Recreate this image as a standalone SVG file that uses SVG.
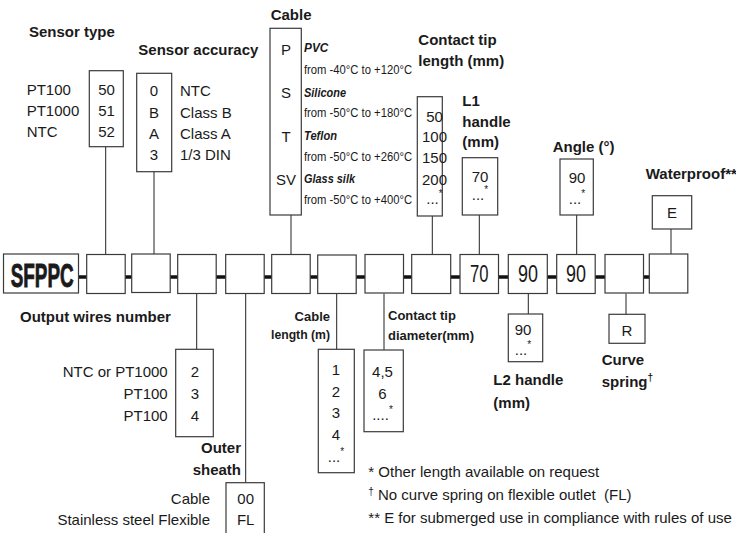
<svg xmlns="http://www.w3.org/2000/svg" width="736" height="533" viewBox="0 0 736 533">
<style>
.box{fill:#fff;stroke:#3a3a3a;stroke-width:1.2}
.t{font-family:"Liberation Sans",Arial,sans-serif;font-size:15px;fill:#1a1a1a}
.b{font-weight:bold}
.c{text-anchor:middle}
.r{text-anchor:end}
.bi{font-weight:bold;font-style:italic;font-size:12px}
.sm{font-size:12px}
.big{font-size:23px}
.sup{font-size:10px}
.s13{font-size:13px}
.logo{font-size:33px;font-weight:bold;stroke:#1a1a1a;stroke-width:0.9}
.conn{stroke:#222;stroke-width:1;fill:none}
.bar{stroke:#111;stroke-width:3.4;fill:none}
</style>
<rect width="736" height="533" fill="#fff"/>
<g id="connectors">
<line class="bar" x1="78" y1="277" x2="650" y2="277"/>
<line class="conn" x1="105.7" y1="146.7" x2="105.7" y2="255"/>
<line class="conn" x1="154" y1="171.7" x2="154" y2="254.5"/>
<line class="conn" x1="291" y1="215" x2="291" y2="255"/>
<line class="conn" x1="432.3" y1="216" x2="432.3" y2="255"/>
<line class="conn" x1="479.3" y1="215" x2="479.3" y2="255"/>
<line class="conn" x1="576.7" y1="215" x2="576.7" y2="255"/>
<line class="conn" x1="671" y1="229" x2="671" y2="254.5"/>
<line class="conn" x1="196.7" y1="293.5" x2="196.7" y2="349.3"/>
<line class="conn" x1="245.7" y1="293.5" x2="245.7" y2="482.7"/>
<line class="conn" x1="336.7" y1="293.5" x2="336.7" y2="349.3"/>
<line class="conn" x1="384" y1="293.5" x2="384" y2="350"/>
<line class="conn" x1="528.3" y1="293.5" x2="528.3" y2="314"/>
<line class="conn" x1="626" y1="293.5" x2="626" y2="314.3"/>
</g>
<g id="main-row">
<g id="code"><rect class="box" x="3.5" y="254" width="75" height="39"/>
<text class="t logo" x="10.7" y="286.5" textLength="63" lengthAdjust="spacingAndGlyphs">SFPPC</text></g>
<rect id="slot1" class="box" x="86.7" y="254.5" width="38.5" height="39"/>
<rect id="slot2" class="box" x="131.7" y="254" width="38.5" height="38.5"/>
<rect id="slot3" class="box" x="177.7" y="254.5" width="38.5" height="39"/>
<rect id="slot4" class="box" x="225.7" y="254.5" width="38.5" height="39"/>
<rect id="slot5" class="box" x="271.7" y="254.5" width="38.5" height="39"/>
<rect id="slot6" class="box" x="317.7" y="255" width="38.5" height="38.5"/>
<rect id="slot7" class="box" x="365" y="254.5" width="38.5" height="38.5"/>
<rect id="slot8" class="box" x="411.7" y="254.5" width="39" height="39"/>
<g id="slot9"><rect class="box" x="460" y="254.5" width="38.5" height="39"/><text class="t c big" x="479.2" y="281.7" textLength="18.5" lengthAdjust="spacingAndGlyphs">70</text></g>
<g id="slot10"><rect class="box" x="508.3" y="254.5" width="39" height="39"/><text class="t c big" x="528" y="281.7" textLength="20" lengthAdjust="spacingAndGlyphs">90</text></g>
<g id="slot11"><rect class="box" x="556.7" y="254.5" width="38.5" height="39"/><text class="t c big" x="576" y="281.7" textLength="20" lengthAdjust="spacingAndGlyphs">90</text></g>
<rect id="slot12" class="box" x="605" y="254.5" width="38.5" height="38.5"/>
<rect id="slot13" class="box" x="649.3" y="254" width="38.5" height="39"/>
</g>
<g id="sensor-type">
<text class="t b" x="29" y="36.7">Sensor type</text>
<rect class="box" x="89.3" y="70.7" width="34" height="76"/>
<text class="t" x="26.7" y="95">PT100</text>
<text class="t" x="26.7" y="116">PT1000</text>
<text class="t" x="26.7" y="137">NTC</text>
<text class="t c" x="106.5" y="95">50</text>
<text class="t c" x="106.5" y="116">51</text>
<text class="t c" x="106.5" y="137">52</text>
</g>
<g id="sensor-accuracy">
<text class="t b" x="138.3" y="55">Sensor accuracy</text>
<rect class="box" x="136.7" y="73.3" width="35" height="98.4"/>
<text class="t c" x="154" y="96">0</text>
<text class="t c" x="154" y="118">B</text>
<text class="t c" x="154" y="139">A</text>
<text class="t c" x="154" y="160">3</text>
<text class="t" x="180" y="96">NTC</text>
<text class="t" x="180" y="118">Class B</text>
<text class="t" x="180" y="139">Class A</text>
<text class="t" x="180" y="160">1/3 DIN</text>
</g>
<g id="cable">
<text class="t b" x="270.7" y="20">Cable</text>
<rect class="box" x="270" y="28.3" width="31.3" height="186.7"/>
<text class="t c" x="286" y="55">P</text>
<text class="t c" x="286" y="98.3">S</text>
<text class="t c" x="286" y="141.7">T</text>
<text class="t c" x="286" y="185">SV</text>
<text class="t bi" x="304" y="51.7" textLength="24.3" lengthAdjust="spacingAndGlyphs">PVC</text>
<text class="t sm" x="304" y="74" textLength="108" lengthAdjust="spacingAndGlyphs">from -40°C to +120°C</text>
<text class="t bi" x="304" y="96.7" textLength="42" lengthAdjust="spacingAndGlyphs">Silicone</text>
<text class="t sm" x="304" y="117.3" textLength="108" lengthAdjust="spacingAndGlyphs">from -50°C to +180°C</text>
<text class="t bi" x="304" y="140" textLength="33" lengthAdjust="spacingAndGlyphs">Teflon</text>
<text class="t sm" x="304" y="160.7" textLength="108" lengthAdjust="spacingAndGlyphs">from -50°C to +260°C</text>
<text class="t bi" x="304" y="183.3" textLength="51" lengthAdjust="spacingAndGlyphs">Glass silk</text>
<text class="t sm" x="304" y="204" textLength="108" lengthAdjust="spacingAndGlyphs">from -50°C to +400°C</text>
</g>
<g id="contact-tip-length">
<text class="t b" x="418.3" y="45">Contact tip</text>
<text class="t b" x="418.3" y="66">length (mm)</text>
<rect class="box" x="417.3" y="96.7" width="25" height="119.3"/>
<text class="t c" x="434.5" y="121.7">50</text>
<text class="t c" x="434.5" y="142">100</text>
<text class="t c" x="434.5" y="163">150</text>
<text class="t c" x="434.5" y="184.5">200</text>
<text class="t c" x="434.5" y="204">...<tspan class="sup" dy="-7">*</tspan></text>
</g>
<g id="l1-handle">
<text class="t b" x="462.3" y="106">L1</text>
<text class="t b" x="462.3" y="126.7">handle</text>
<text class="t b" x="462.3" y="147">(mm)</text>
<rect class="box" x="462.3" y="157.7" width="35.4" height="57.3"/>
<text class="t c" x="480" y="181.7">70</text>
<text class="t c" x="480" y="200">...<tspan class="sup" dy="-7">*</tspan></text>
</g>
<g id="angle">
<text class="t b" x="552.7" y="151.7">Angle (°)</text>
<rect class="box" x="560" y="159" width="33.3" height="56"/>
<text class="t c" x="577" y="182.7">90</text>
<text class="t c" x="577" y="204">...<tspan class="sup" dy="-7">*</tspan></text>
</g>
<g id="waterproof">
<text class="t b" x="645.7" y="179.3">Waterproof**</text>
<rect class="box" x="652.3" y="195.7" width="39.4" height="33.3"/>
<text class="t c" x="672" y="217.7">E</text>
</g>
<g id="output-wires">
<text class="t b" x="20" y="321.7">Output wires number</text>
<rect class="box" x="175.7" y="349.3" width="37.6" height="87.4"/>
<text class="t r" x="167.7" y="377.3">NTC or PT1000</text>
<text class="t r" x="167.7" y="399.3">PT100</text>
<text class="t r" x="167.7" y="420.7">PT100</text>
<text class="t c" x="195" y="377.3">2</text>
<text class="t c" x="195" y="399.3">3</text>
<text class="t c" x="195" y="420.7">4</text>
</g>
<g id="outer-sheath">
<text class="t b r" x="241" y="453.3">Outer</text>
<text class="t b r" x="241" y="475">sheath</text>
<rect class="box" x="226" y="482.7" width="38.3" height="60"/>
<text class="t r" x="210" y="504">Cable</text>
<text class="t r" x="210" y="524.5">Stainless steel Flexible</text>
<text class="t c" x="245.7" y="504">00</text>
<text class="t c" x="245.7" y="525">FL</text>
</g>
<g id="cable-length">
<text class="t b r s13" x="330" y="320.7">Cable</text>
<text class="t b r s13" x="330" y="339.3" textLength="59" lengthAdjust="spacingAndGlyphs">length (m)</text>
<rect class="box" x="318.3" y="349.3" width="36" height="123.4"/>
<text class="t c" x="336" y="375">1</text>
<text class="t c" x="336" y="396.7">2</text>
<text class="t c" x="336" y="418.3">3</text>
<text class="t c" x="336" y="440">4</text>
<text class="t c" x="336" y="461.7">...<tspan class="sup" dy="-7">*</tspan></text>
</g>
<g id="contact-tip-diameter">
<text class="t b s13" x="388" y="320">Contact tip</text>
<text class="t b s13" x="388" y="340">diameter(mm)</text>
<rect class="box" x="364" y="350" width="39.3" height="81.7"/>
<text class="t c" x="382.5" y="377.3">4,5</text>
<text class="t c" x="382.5" y="399.3">6</text>
<text class="t c" x="382.5" y="420">....<tspan class="sup" dy="-7">*</tspan></text>
</g>
<g id="l2-handle">
<rect class="box" x="508.3" y="314" width="34.4" height="47.7"/>
<text class="t c" x="523" y="335">90</text>
<text class="t c" x="523" y="355">...<tspan class="sup" dy="-7">*</tspan></text>
<text class="t b" x="493.3" y="385">L2 handle</text>
<text class="t b" x="493.3" y="408">(mm)</text>
</g>
<g id="curve-spring">
<rect class="box" x="609" y="314.3" width="36" height="29"/>
<text class="t c" x="627" y="336">R</text>
<text class="t b" x="601.7" y="365">Curve</text>
<text class="t b" x="601.7" y="386.7">spring<tspan class="sup" dy="-6">†</tspan></text>
</g>
<g id="notes">
<text class="t" x="368.3" y="476.5">* Other length available on request</text>
<text class="t" x="368.3" y="500" xml:space="preserve"><tspan class="sup" dy="-5">†</tspan><tspan dy="5"> No curve spring on flexible outlet  (FL)</tspan></text>
<text class="t" x="368.3" y="522.5">** E for submerged use in compliance with rules of use</text>
</g>
</svg>
